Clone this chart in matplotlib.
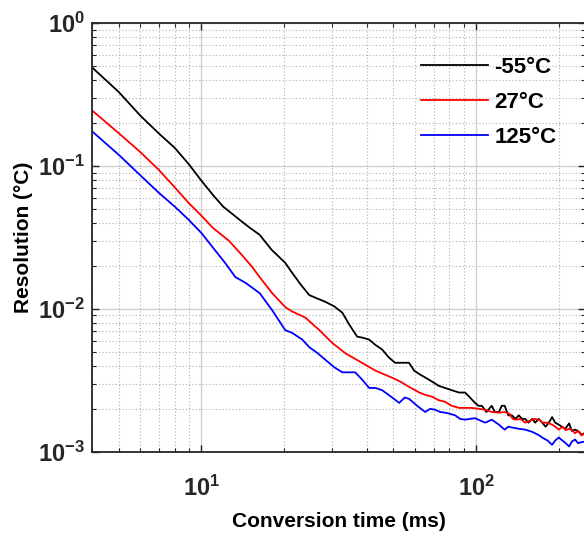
import numpy as np
import matplotlib
matplotlib.use("Agg")
import matplotlib.pyplot as plt
from matplotlib.ticker import LogLocator, FuncFormatter, NullFormatter

plt.rcParams['font.family'] = ['Liberation Sans', 'DejaVu Sans']
plt.rcParams['font.weight'] = 'bold'
plt.rcParams['mathtext.fontset'] = 'custom'
plt.rcParams['mathtext.bf'] = 'Liberation Sans:bold'
plt.rcParams['mathtext.rm'] = 'Liberation Sans:bold'

labels = ['-55\u00b0C', '27\u00b0C', '125\u00b0C']
colors = ['black', 'red', 'blue']

# -55 C
x_m55 = [4.0, 5, 6, 7, 8, 9, 10, 11, 12, 13, 14, 15, 16.3, 18, 20.2, 21.4, 23, 24.7,
         26.5, 28.3, 30.5, 32.6, 34.5, 36.9, 38.5, 40.8, 43, 45.5, 48, 50.7, 54, 57,
         59.5, 62.1, 65.5, 69.2, 73, 77.1, 81.5, 86.7, 91.2, 95, 99.1, 102, 105, 109,
         114, 117, 121, 124, 127, 131, 135, 139, 143, 147, 151, 155, 160, 164, 169,
         174, 179, 184, 189, 194, 200, 205, 211, 218, 223, 229, 235, 242, 250]
y_m55 = [0.49, 0.33, 0.225, 0.169, 0.134, 0.103, 0.079, 0.063, 0.052, 0.046, 0.041,
         0.037, 0.033, 0.026, 0.021, 0.0179, 0.0148, 0.0125, 0.0118, 0.0112, 0.0104,
         0.0094, 0.0078, 0.0064, 0.0063, 0.0061, 0.0056, 0.0052, 0.0046, 0.0042,
         0.0042, 0.0042, 0.0037, 0.0035, 0.0033, 0.0031, 0.0029, 0.0028, 0.0027,
         0.0026, 0.0026, 0.0024, 0.0022, 0.0021, 0.0021, 0.0019, 0.0021, 0.0019,
         0.0019, 0.0021, 0.0021, 0.0018, 0.0018, 0.0017, 0.0018, 0.0017, 0.0017,
         0.0016, 0.0017, 0.0016, 0.0017, 0.0016, 0.0015, 0.0016, 0.00175, 0.0016,
         0.00155, 0.0015, 0.00145, 0.00158, 0.0014, 0.00143, 0.0014, 0.00132, 0.00136]

# 27 C
x_27 = [4.0, 5, 6, 7, 8, 9, 10, 11, 12.6, 14, 15.3, 16.3, 18.1, 20.2, 21.4, 23.9, 26.9,
        29.9, 33.4, 37.6, 43, 49.5, 53, 57, 62.1, 65.5, 69.2, 73, 77.1, 81.5, 86.7, 91,
        96.6, 102, 108, 114, 121, 127, 132, 136, 139, 145, 151, 157, 163, 169, 175,
        182, 189, 194, 200, 206, 212, 218, 223, 229, 235, 242, 250]
y_27 = [0.245, 0.17, 0.125, 0.094, 0.071, 0.055, 0.045, 0.037, 0.030, 0.024, 0.0197,
        0.0167, 0.0129, 0.0103, 0.0096, 0.0087, 0.0071, 0.0058, 0.0049, 0.0043, 0.0037,
        0.0033, 0.0031, 0.00285, 0.0026, 0.0025, 0.00243, 0.0023, 0.00224, 0.0021,
        0.00203, 0.00203, 0.00203, 0.002, 0.00197, 0.0019, 0.00188, 0.0019, 0.00185,
        0.0017, 0.00168, 0.0017, 0.0016, 0.00165, 0.0017, 0.00168, 0.0016, 0.0016,
        0.00155, 0.0015, 0.00143, 0.0015, 0.00142, 0.00145, 0.00143, 0.00135, 0.0014,
        0.0013, 0.00136]

# 125 C
x_125 = [4.0, 5, 6, 7, 8, 9, 10, 11, 12.2, 13.3, 14.5, 16.3, 18.1, 20.2, 21.4, 23.3,
         24.7, 26.5, 28.3, 30.5, 32.6, 36.3, 38.5, 40.8, 43, 45.5, 49.5, 52.5, 55, 57,
         61, 65.3, 68, 71, 74, 77.1, 80, 83.9, 87.5, 91.2, 95, 99.1, 104, 108, 114,
         121, 127, 131, 135, 143, 151, 160, 169, 175, 182, 189, 194, 200, 206, 212,
         218, 223, 229, 235, 242, 250]
y_125 = [0.175, 0.12, 0.086, 0.065, 0.052, 0.042, 0.034, 0.027, 0.021, 0.0167, 0.0152,
         0.0129, 0.0098, 0.0071, 0.0068, 0.0061, 0.0054, 0.0049, 0.0044, 0.0039, 0.0036,
         0.0036, 0.0032, 0.0028, 0.0028, 0.0027, 0.0024, 0.0022, 0.0024, 0.00235,
         0.0021, 0.0019, 0.002, 0.00197, 0.0019, 0.00188, 0.00185, 0.0018, 0.0017,
         0.00168, 0.0017, 0.00172, 0.00165, 0.0016, 0.00168, 0.00155, 0.00143, 0.0015,
         0.00148, 0.00145, 0.00143, 0.00138, 0.00131, 0.00125, 0.0012, 0.00112, 0.0012,
         0.00126, 0.0012, 0.00115, 0.00109, 0.00118, 0.00122, 0.00115, 0.00117, 0.00118]

xs = [x_m55, x_27, x_125]
ys = [y_m55, y_27, y_125]

fig = plt.figure(figsize=(5.84, 5.36), dpi=100)
ax = fig.add_axes([0.1575, 0.157, 0.845, 0.8])

for x, y, c, lab in zip(xs, ys, colors, labels):
    ax.plot(x, y, color=c, lw=1.3, label=lab)

ax.set_xscale('log')
ax.set_yscale('log')
ax.set_xlim(4, 250)
ax.set_ylim(1e-3, 1)

ax.xaxis.set_major_locator(LogLocator(base=10))
ax.yaxis.set_major_locator(LogLocator(base=10))
ax.xaxis.set_minor_locator(LogLocator(base=10, subs=np.arange(2, 10)))
ax.yaxis.set_minor_locator(LogLocator(base=10, subs=np.arange(2, 10)))
fmt = FuncFormatter(lambda v, p: r'$\mathbf{10^{%d}}$' % int(round(np.log10(v))))
ax.xaxis.set_major_formatter(fmt)
ax.yaxis.set_major_formatter(fmt)
ax.xaxis.set_minor_formatter(NullFormatter())
ax.yaxis.set_minor_formatter(NullFormatter())

ax.grid(True, which='major', color='#d0d0d0', lw=1.0, ls='-')
ax.grid(True, which='minor', color='#b0b0b0', lw=0.8, ls=(0, (1, 2)))
ax.set_axisbelow(True)

ax.tick_params(which='both', direction='in', top=True, right=True, colors='#262626')
ax.tick_params(which='major', length=5, width=1.0, labelsize=17)
ax.tick_params(axis='x', which='major', pad=17)
ax.tick_params(axis='y', which='major', pad=5)
ax.tick_params(which='minor', length=3, width=0.8)
for s in ax.spines.values():
    s.set_color('#262626')
    s.set_linewidth(1.3)

ax.set_xlabel('Conversion time (ms)', fontsize=15, fontweight='bold', labelpad=8)
ax.set_ylabel('Resolution (\u00b0C)', fontsize=15, fontweight='bold', labelpad=4)

ax.legend(loc='upper right', bbox_to_anchor=(0.982, 0.968), frameon=False,
          fontsize=16, handlelength=3.0, labelspacing=0.63, handletextpad=0.3)

fig.savefig('out.png', dpi=100)
